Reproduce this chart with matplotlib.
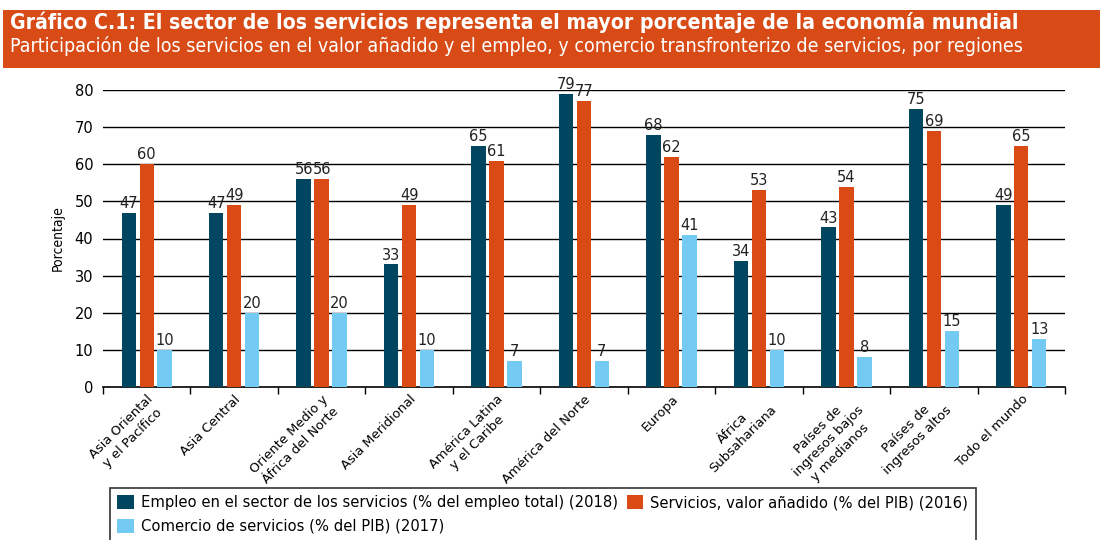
import matplotlib
matplotlib.use("Agg")
import matplotlib.pyplot as plt
import numpy as np
from matplotlib.patches import Rectangle, Patch

categories = ["Asia Oriental\ny el Pacífico", "Asia Central", "Oriente Medio y\nÁfrica del Norte",
              "Asia Meridional", "América Latina\ny el Caribe", "América del Norte", "Europa",
              "África\nSubsahariana", "Países de\ningresos bajos\ny medianos", "Países de\ningresos altos",
              "Todo el mundo"]
empleo = [47, 47, 56, 33, 65, 79, 68, 34, 43, 75, 49]
valor = [60, 49, 56, 49, 61, 77, 62, 53, 54, 69, 65]
comercio = [10, 20, 20, 10, 7, 7, 41, 10, 8, 15, 13]
series_labels = ["Empleo en el sector de los servicios (% del empleo total) (2018)",
                 "Servicios, valor añadido (% del PIB) (2016)",
                 "Comercio de servicios (% del PIB) (2017)"]
yticks = [0, 10, 20, 30, 40, 50, 60, 70, 80]

title = "Gráfico C.1: El sector de los servicios representa el mayor porcentaje de la economía mundial"
subtitle = "Participación de los servicios en el valor añadido y el empleo, y comercio transfronterizo de servicios, por regiones"

c_dark = "#004660"
c_orange = "#D94A14"
c_light = "#73CBF3"
c_band = "#D84B16"

plt.rcParams['font.family'] = ['DejaVu Sans']

fig = plt.figure(figsize=(11, 5.4), dpi=100)

# header band
fig.patches.append(Rectangle((3/1100, 1-68/540), 1, 58/540, transform=fig.transFigure,
                             facecolor=c_band, edgecolor='none', zorder=0))
fig.text(10/1100, 1-22/540, title, color='white', fontsize=15.2, fontweight='bold',
         fontstretch='condensed', va='center', ha='left')
fig.text(10/1100, 1-46/540, subtitle, color='white', fontsize=14,
         fontstretch='condensed', va='center', ha='left')

ax = fig.add_axes([103/1100, 1-387/540, (1065-103)/1100, (387-90)/540])
x = np.arange(len(categories))
w = 0.165
off = 0.205
series = [(empleo, c_dark), (valor, c_orange), (comercio, c_light)]
for i, (vals, col) in enumerate(series):
    pos = x + (i-1)*off
    ax.bar(pos, vals, width=w, color=col, zorder=3)
    for p, v in zip(pos, vals):
        ax.text(p, v + 0.5, f"{v}", ha='center', va='bottom', fontsize=10.5, color='#222222',
                clip_on=False, zorder=4)

ax.set_xlim(-0.5, len(categories)-0.5)
ax.set_ylim(0, 80)
ax.set_yticks(yticks)
ax.set_yticklabels([str(t) for t in yticks], fontsize=10.5)
ax.tick_params(axis='y', length=0, pad=7)
for t in yticks[1:]:
    ax.axhline(t, color='black', linewidth=1.0, zorder=1)
for s in ['left', 'right', 'top']:
    ax.spines[s].set_visible(False)
ax.spines['bottom'].set_linewidth(1.2)
ax.set_xticks(x)
ax.set_xticklabels(categories, rotation=45, ha='right', rotation_mode='anchor',
                   fontsize=9.4, ma='center', linespacing=1.25)
ax.tick_params(axis='x', length=0, pad=4)
ax.set_xticks(np.arange(-0.5, len(categories)), minor=True)
ax.tick_params(axis='x', which='minor', length=5, width=1, direction='out')
ax.set_ylabel("Porcentaje", fontsize=10, fontstretch='condensed', labelpad=7)

handles = [Patch(facecolor=c_dark), Patch(facecolor=c_light), Patch(facecolor=c_orange)]
labels = [series_labels[0], series_labels[2], series_labels[1]]
leg = fig.legend(handles, labels, loc='upper left', bbox_to_anchor=(110/1100, 1-488/540),
                 ncol=2, fontsize=10.6, frameon=True, fancybox=False, edgecolor='black',
                 handlelength=1.1, handleheight=1.1, handletextpad=0.5, columnspacing=0.6,
                 borderpad=0.5, labelspacing=0.55, borderaxespad=0)
leg.get_frame().set_linewidth(1.2)

fig.savefig("out.png", dpi=100)
